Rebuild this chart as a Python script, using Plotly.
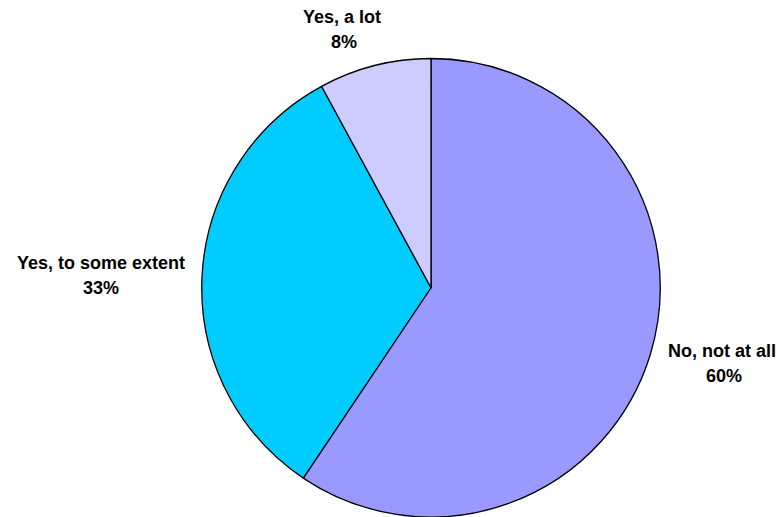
import plotly.graph_objects as go

# Data
categories = ["No, not at all", "Yes, to some extent", "Yes, a lot"]
percent_values = [60, 33, 8]
slice_colors = ["#9999FF", "#00CCFF", "#CCCCFF"]

# page has an 8px body margin: figure is drawn 8px in from the window corner
OFF = 8
W, H = 784 - OFF, 517 - OFF

# label anchor positions in window pixels (name line centre, percent line centre)
label_pos = [
    (722, 351, 724, 376),
    (101, 263, 101, 288),
    (342, 17, 344, 42),
]

cx, cy, r = 431 - OFF, 288 - OFF, 229.5

fig = go.Figure(
    go.Pie(
        labels=categories,
        values=percent_values,
        marker=dict(colors=slice_colors, line=dict(color="black", width=1.3)),
        sort=False,
        direction="clockwise",
        rotation=0,
        textinfo="none",
        hoverinfo="label+percent",
        showlegend=False,
        domain=dict(x=[(cx - r) / W, (cx + r) / W], y=[0, (H - (cy - r)) / H]),
    )
)

font = dict(family="Liberation Sans, Arial, sans-serif", size=18, color="black", weight="bold")
annotations = []
for name, val, (x1, y1, x2, y2) in zip(categories, percent_values, label_pos):
    annotations.append(dict(text=name, x=(x1 - OFF) / W, y=1 - (y1 - OFF) / H, xref="paper", yref="paper",
                            showarrow=False, xanchor="center", yanchor="middle", font=font))
    annotations.append(dict(text=f"{val}%", x=(x2 - OFF) / W, y=1 - (y2 - OFF) / H, xref="paper", yref="paper",
                            showarrow=False, xanchor="center", yanchor="middle", font=font))

fig.update_layout(
    width=W,
    height=H,
    margin=dict(l=0, r=0, t=0, b=0),
    paper_bgcolor="white",
    plot_bgcolor="white",
    annotations=annotations,
)

fig.write_html("out.html")
